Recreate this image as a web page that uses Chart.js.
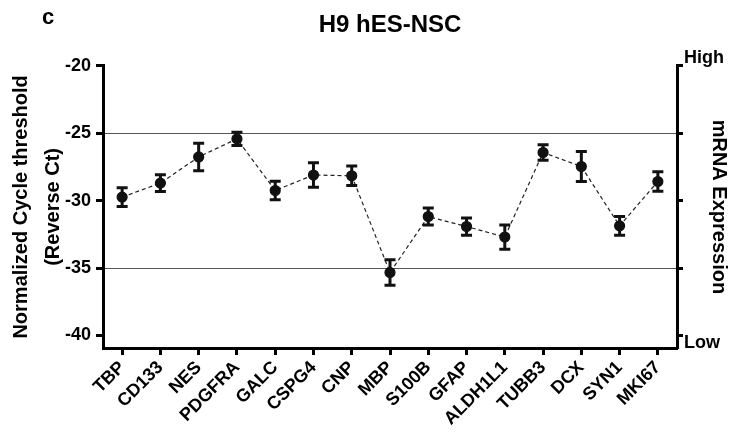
<!DOCTYPE html>
<html>
<head>
<meta charset="utf-8">
<script src="https://cdn.jsdelivr.net/npm/chart.js@4"></script>
<style>
  body { margin: 0; background: #fff; }
</style>
</head>
<body>
<canvas id="expr" width="731" height="441"></canvas>
<script>
/* =================================================================
    H9 hES-NSC - normalized Ct per gene
================================================================= */

var genes = ["TBP", "CD133", "NES", "PDGFRA", "GALC", "CSPG4", "CNP", "MBP",
             "S100B", "GFAP", "ALDH1L1", "TUBB3", "DCX", "SYN1", "MKI67"];
var meanCt = [-29.74, -28.7, -26.76, -25.42, -29.25, -28.1, -28.16, -35.33,
              -31.18, -31.92, -32.7, -26.43, -27.47, -31.87, -28.58];
var errCt = [0.70, 0.62, 1.02, 0.5, 0.69, 0.91, 0.72, 0.95,
             0.63, 0.64, 0.9, 0.58, 1.12, 0.7, 0.72];
var yTicks = [-40, -35, -30, -25, -20];
var gridAt = [-25, -35];

var FONT = "'Liberation Sans', Arial, sans-serif";

// error bars, drawn through the y scale
var errorBars = {
    id: 'errorBars',
    afterDatasetsDraw: function (chart) {
        var meta = chart.getDatasetMeta(0);
        var y = chart.scales.y;
        var c = chart.ctx;
        c.save();
        c.strokeStyle = '#111';
        c.lineWidth = 3;
        meta.data.forEach(function (pt, i) {
            var top = y.getPixelForValue(meanCt[i] + errCt[i]);
            var bot = y.getPixelForValue(meanCt[i] - errCt[i]);
            c.beginPath();
            c.moveTo(pt.x, top); c.lineTo(pt.x, bot);
            c.moveTo(pt.x - 5.5, top); c.lineTo(pt.x + 5.5, top);
            c.moveTo(pt.x - 5.5, bot); c.lineTo(pt.x + 5.5, bot);
            c.stroke();
        });
        c.restore();
    }
};

// panel letter
var panelLetter = {
    id: 'panelLetter',
    afterDraw: function (chart) {
        var c = chart.ctx;
        c.save();
        c.fillStyle = '#000';
        c.font = 'bold 22px ' + FONT;
        c.textBaseline = 'middle';
        c.fillText('c', 42, 18);
        c.restore();
    }
};

var ctx = document.getElementById("expr");

var data = {
    labels: genes,
    datasets: [{
        data: meanCt,
        borderColor: '#222',
        borderWidth: 1.2,
        borderDash: [4, 3],
        pointRadius: 5,
        pointBackgroundColor: '#111',
        pointBorderColor: '#111',
        fill: false,
        tension: 0
    }]
};

var myChart = new Chart(ctx, {
    type: 'line',
    data: data,
    plugins: [errorBars, panelLetter],
    options: {
        responsive: false,
        animation: false,
        layout: { padding: 0 },
        plugins: {
            legend: { display: false },
            tooltip: { enabled: false },
            title: {
                display: true,
                text: 'H9 hES-NSC',
                fullSize: false,
                color: '#000',
                font: { family: FONT, size: 24, weight: 'bold' },
                padding: { top: 11, bottom: 26 }
            }
        },
        scales: {
            x: {
                offset: true,
                border: { color: '#000', width: 3 },
                grid: { drawOnChartArea: false, tickColor: '#000', tickWidth: 3, tickLength: 7 },
                ticks: {
                    color: '#000',
                    maxRotation: 45, minRotation: 45,
                    padding: 2,
                    font: { family: FONT, size: 18, weight: 'bold' }
                },
                afterFit: function (s) { s.height = 93; }
            },
            y: {
                min: -40.93, max: -20,
                afterBuildTicks: function (s) {
                    s.ticks = yTicks.map(function (v) { return { value: v }; });
                },
                border: { color: '#000', width: 3 },
                grid: {
                    color: function (c) {
                        return gridAt.indexOf(c.tick && c.tick.value) >= 0 ? '#555' : 'rgba(0,0,0,0)';
                    },
                    lineWidth: 1,
                    tickColor: '#000', tickWidth: 3, tickLength: 7
                },
                ticks: {
                    color: '#000',
                    padding: 5,
                    font: { family: FONT, size: 18, weight: 'bold' }
                },
                title: {
                    display: true,
                    text: ['Normalized Cycle threshold', '(Reverse Ct)'],
                    color: '#000',
                    font: { family: FONT, size: 20, weight: 'bold', lineHeight: 1.57 },
                    padding: { top: 6, bottom: 0 }
                },
                afterFit: function (s) { s.width = 103; }
            },
            y2: {
                position: 'right',
                min: -40.93, max: -20,
                afterBuildTicks: function (s) {
                    s.ticks = yTicks.map(function (v) { return { value: v }; });
                },
                border: { color: '#000', width: 3 },
                grid: { drawOnChartArea: false, tickColor: '#000', tickWidth: 3, tickLength: 6 },
                ticks: {
                    color: '#000',
                    padding: 1,
                    font: { family: FONT, size: 18, weight: 'bold', lineHeight: 0.85 },
                    callback: function (v) {
                        if (v === -20) return ['High', ''];
                        if (v === -40) return ['', 'Low'];
                        return '';
                    }
                },
                title: {
                    display: true,
                    text: 'mRNA Expression',
                    color: '#000',
                    font: { family: FONT, size: 20, weight: 'bold' },
                    padding: 0
                },
                afterFit: function (s) { s.width = 54; }
            }
        }
    }
});
</script>
</body>
</html>
